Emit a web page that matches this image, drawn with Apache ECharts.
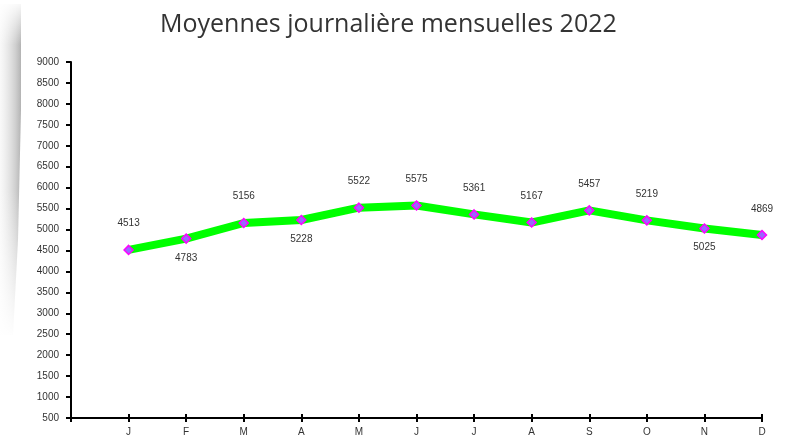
<!DOCTYPE html>
<html>
<head>
<meta charset="utf-8">
<script src="https://cdn.jsdelivr.net/npm/echarts@6/dist/echarts.min.js"></script>
<style>
html,body{margin:0;padding:0;background:#fff;}
#chart{width:785px;height:441px;}
</style>
</head>
<body>
<div id="chart"></div>
<script>
const titleText = 'Moyennes journalière mensuelles 2022';
const months = ['J', 'F', 'M', 'A', 'M', 'J', 'J', 'A', 'S', 'O', 'N', 'D'];
const values = [4513, 4783, 5156, 5228, 5522, 5575, 5361, 5167, 5457, 5219, 5025, 4869];
const yMin = 500;
const yMax = 9000;
const yStep = 500;

// label placement (style): indices whose label sits below the point
const belowIdx = [1, 3, 10];

const chart = echarts.init(document.getElementById('chart'), null, {renderer: 'canvas'});

const seriesData = values.map((v, i) => ({
  value: [i + 1, v],
  label: belowIdx.includes(i)
    ? {position: 'bottom', distance: 9}
    : {position: 'top', distance: 16}
}));

const option = {
  backgroundColor: '#ffffff',
  animation: false,
  title: {
    text: titleText,
    left: 155,
    top: 7,
    textStyle: {fontFamily: 'Open Sans', fontSize: 25, fontWeight: 'normal', color: '#333333'}
  },
  graphic: [
    {
      type: 'polygon', silent: true, z: -10,
      shape: {points: [[0, 4], [21, 4], [21, 110], [18, 240], [13, 335], [0, 335]]},
      style: {
        fill: new echarts.graphic.LinearGradient(0, 0, 1, 0, [
          {offset: 0, color: 'rgba(240,240,240,0.4)'},
          {offset: 0.75, color: 'rgba(185,185,185,0.7)'},
          {offset: 1, color: 'rgba(160,160,160,0.8)'}
        ])
      }
    },
    {
      type: 'rect', silent: true, z: -9,
      shape: {x: 0, y: 0, width: 24, height: 45},
      style: {
        fill: new echarts.graphic.LinearGradient(0, 0, 0, 1, [
          {offset: 0, color: 'rgba(255,255,255,1)'},
          {offset: 1, color: 'rgba(255,255,255,0)'}
        ])
      }
    },
    {
      type: 'rect', silent: true, z: -9,
      shape: {x: 0, y: 190, width: 24, height: 150},
      style: {
        fill: new echarts.graphic.LinearGradient(0, 0, 0, 1, [
          {offset: 0, color: 'rgba(255,255,255,0)'},
          {offset: 1, color: 'rgba(255,255,255,1)'}
        ])
      }
    }
  ],
  grid: {left: 71, right: 23, top: 62, bottom: 23, containLabel: false},
  xAxis: [
    {
      type: 'value', min: 0, max: months.length, interval: 1,
      axisLine: {show: true, lineStyle: {color: '#000', width: 2}},
      axisTick: {show: true, length: 4, lineStyle: {color: '#000', width: 2}},
      axisLabel: {
        margin: 9, fontFamily: 'Liberation Sans', fontSize: 10, color: '#333',
        formatter: v => (v >= 1 && v <= months.length) ? months[v - 1] : ''
      },
      splitLine: {show: false}
    },
    {
      type: 'value', min: 0, max: months.length, interval: 1, position: 'bottom',
      axisLine: {show: false},
      axisTick: {show: true, inside: true, length: 4, lineStyle: {color: '#000', width: 2}},
      axisLabel: {show: false},
      splitLine: {show: false}
    }
  ],
  yAxis: {
    type: 'value', min: yMin, max: yMax, interval: yStep,
    axisLine: {show: true, lineStyle: {color: '#000', width: 2}},
    axisTick: {show: true, length: 5, lineStyle: {color: '#000', width: 2}},
    axisLabel: {margin: 12, fontFamily: 'Liberation Sans', fontSize: 10, color: '#333',
      formatter: v => String(v)},
    splitLine: {show: false}
  },
  series: [{
    type: 'line',
    data: seriesData,
    lineStyle: {color: '#00ff00', width: 8},
    symbol: 'diamond',
    symbolSize: 9,
    itemStyle: {color: '#9966ff', borderColor: '#ff00ff', borderWidth: 1.5},
    label: {show: true, fontFamily: 'Liberation Sans', fontSize: 10, color: '#333',
      formatter: p => String(p.value[1])}
  }]
};
chart.setOption(option);
</script>
</body>
</html>
